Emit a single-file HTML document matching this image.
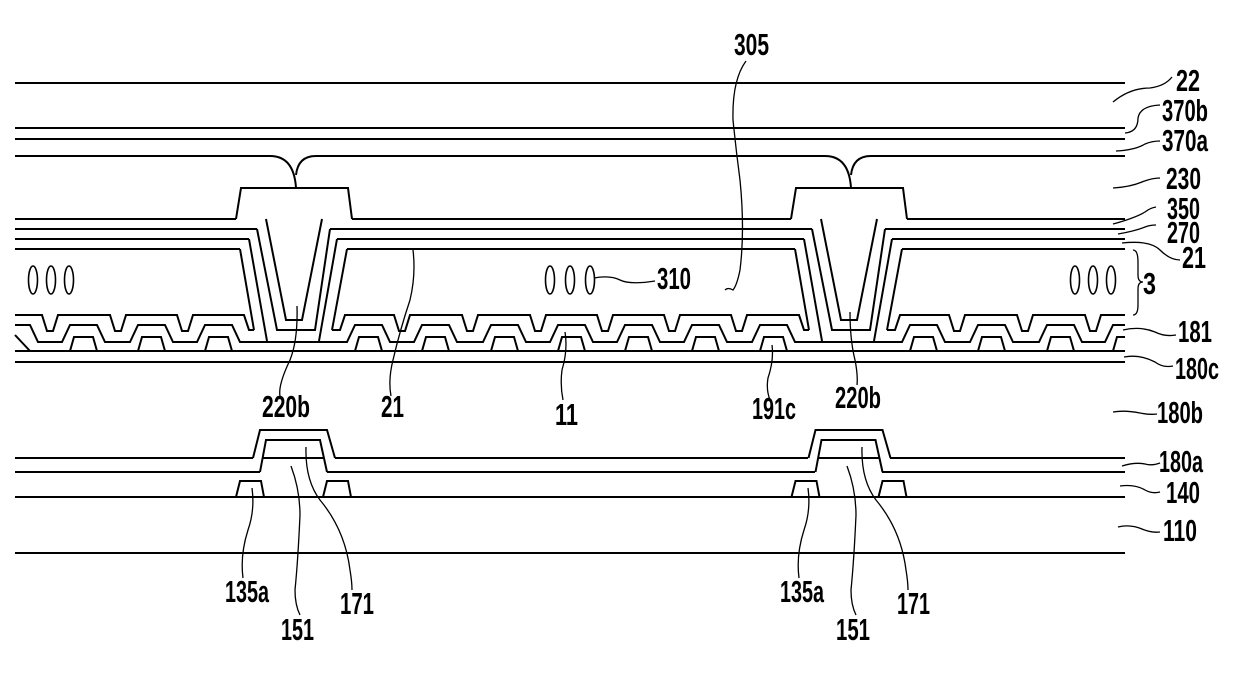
<!DOCTYPE html>
<html><head><meta charset="utf-8"><style>
html,body{margin:0;padding:0;background:#fff}
svg{display:block}
text{font-family:"Liberation Sans Narrow","Liberation Sans",sans-serif;font-weight:bold;font-size:31px;fill:#000}
</style></head><body>
<svg width="1240" height="682" viewBox="0 0 1240 682" xmlns="http://www.w3.org/2000/svg">
<g fill="none" stroke="#000" stroke-width="2">
<path d="M15,83H1125M15,128H1125M15,139H1125"/>
<path d="M15,156H270Q294,156 296,188M316,156Q298,156 296,175M316,156H825Q849,156 851,188M871,156Q853,156 851,175M871,156H1125"/>
<path d="M15,219H236M352,219H791M907,219H1125"/>
<path d="M15,229H257M330,229H812M885,229H1125"/>
<path d="M15,239H249M337,239H804M892,239H1125"/>
<path d="M15,249H240M347,249H795M902,249H1125"/>
<g transform="translate(294,0)">
<path d="M-58,219L-53,188L54,188L58,219"/>
<path d="M-28,219L-8,320L8,320L28,219"/>
<path d="M-37,229L-17,330L21,330L36,229"/>
<path d="M-45,239L-27,341M43,239L25,341"/>
</g>
<g transform="translate(849,0)">
<path d="M-58,219L-53,188L54,188L58,219"/>
<path d="M-28,219L-8,320L8,320L28,219"/>
<path d="M-37,229L-17,330L21,330L36,229"/>
<path d="M-45,239L-27,341M43,239L25,341"/>
</g>
<path d="M240,249L254,330M347,249L332,330M795,249L809,330M902,249L887,330"/>
<path d="M15,315L42,315L47,331L53,331L58,315L110,315L115,331L121,331L126,315L177,315L182,331L188,331L193,315L244,315L249,330L254,330"/>
<path d="M332,330L340,330L345,315L394,315L399,331L405,331L410,315L462,315L467,331L473,331L478,315L530,315L535,331L541,331L546,315L597,315L602,331L608,331L613,315L664,315L669,331L675,331L680,315L731,315L736,331L742,331L747,315L799,315L804,330L809,330"/>
<path d="M887,330L895,330L900,315L949,315L954,331L960,331L965,315L1017,315L1022,331L1028,331L1033,315L1085,315L1090,331L1096,331L1101,315L1125,315"/>
<path d="M15,325L30,325L38,342L62,342L70,325L97,325L105,342L130,342L138,325L165,325L173,342L197,342L205,325L232,325L240,342L347,342L355,325L382,325L390,342L414,342L422,325L449,325L457,342L483,342L491,325L518,325L526,342L550,342L558,325L585,325L593,342L617,342L625,325L652,325L660,342L684,342L692,325L719,325L727,342L752,342L760,325L787,325L795,342L902,342L910,325L937,325L945,342L970,342L978,325L1005,325L1013,342L1039,342L1047,325L1074,325L1082,342L1105,342L1113,325L1125,325"/>
<path d="M15,335L30,351M70,351L74,337L93,337L97,351M138,351L142,337L161,337L165,351M205,351L209,337L228,337L232,351M355,351L359,337L378,337L382,351M422,351L426,337L445,337L449,351M491,351L495,337L514,337L518,351M558,351L562,337L581,337L585,351M625,351L629,337L648,337L652,351M692,351L696,337L715,337L719,351M760,351L764,337L783,337L787,351M910,351L914,337L933,337L937,351M978,351L982,337L1001,337L1005,351M1047,351L1051,337L1070,337L1074,351M1113,351L1117,337L1125,337"/>
<path d="M15,351H1125M15,362H1125"/>
<path d="M15,458H253M335,458H808M890,458H1125"/>
<path d="M15,472H260M327,472H815M882,472H1125"/>
<path d="M15,497H1125M15,553H1125"/>
<g transform="translate(294,0)">
<path d="M-41,458L-34,430L33,430L41,458"/>
<path d="M-34,472L-28,440L26,440L33,472M-31,458H30"/>
<path d="M-58,497L-54,481L-33,481L-30,497M29,497L33,481L54,481L57,497"/>
</g>
<g transform="translate(849.5,0)">
<path d="M-41,458L-34,430L33,430L41,458"/>
<path d="M-34,472L-28,440L26,440L33,472M-31,458H30"/>
<path d="M-58,497L-54,481L-33,481L-30,497M29,497L33,481L54,481L57,497"/>
</g>
</g>
<g fill="none" stroke="#000" stroke-width="1.6">
<ellipse cx="33" cy="280" rx="4.5" ry="14"/><ellipse cx="51" cy="280" rx="4.5" ry="14"/><ellipse cx="69" cy="280" rx="4.5" ry="14"/>
<ellipse cx="550" cy="280" rx="4.5" ry="14"/><ellipse cx="570" cy="280" rx="4.5" ry="14"/><ellipse cx="590" cy="280" rx="4.5" ry="14"/>
<ellipse cx="1075" cy="280" rx="4.5" ry="14"/><ellipse cx="1093" cy="280" rx="4.5" ry="14"/><ellipse cx="1111" cy="280" rx="4.5" ry="14"/>
</g>
<g fill="none" stroke="#000" stroke-width="1.3">
<path d="M1113,102Q1130,88 1150,88Q1165,86 1172,77"/>
<path d="M1125,133Q1138,132 1138,118Q1140,106 1160,105"/>
<path d="M1116,151Q1135,150 1145,144Q1152,141 1160,141"/>
<path d="M1113,188Q1130,187 1142,182Q1152,178 1160,178"/>
<path d="M1113,224Q1135,218 1145,212Q1150,208 1156,207"/>
<path d="M1118,234Q1135,231 1145,227Q1150,225 1156,225"/>
<path d="M1122,243Q1150,240 1160,250Q1170,260 1180,260"/>
<path d="M1133,250Q1138,250 1138,262L1138,275Q1138,282 1143,282Q1138,282 1138,289L1138,305Q1138,315 1133,315"/>
<path d="M1123,330Q1140,326 1155,332Q1165,337 1176,335"/>
<path d="M1124,357Q1140,354 1155,362Q1163,368 1173,366"/>
<path d="M1113,412Q1125,410 1140,413Q1150,415 1157,414"/>
<path d="M1122,466Q1135,462 1145,464Q1152,466 1160,463"/>
<path d="M1120,486Q1135,484 1145,490Q1152,494 1160,492"/>
<path d="M1118,527Q1130,524 1142,529Q1152,533 1160,532"/>
<path d="M746,61Q732,80 733,120Q736,150 740,180Q745,230 740,270Q737,285 733,290Q728,287 725,290"/>
<path d="M594,278Q610,275 620,280Q630,285 655,281"/>
<path d="M297,306Q298,340 290,360Q278,385 280,396"/>
<path d="M413,250Q416,275 410,300Q400,330 393,360Q388,380 391,396"/>
<path d="M565,332Q568,350 562,370Q560,385 563,400"/>
<path d="M772,345Q774,360 768,378Q766,390 770,400"/>
<path d="M850,312Q850,340 855,360Q858,375 857,385"/>
<path d="M252,488Q255,510 248,530Q240,555 243,578"/>
<path d="M291,466Q300,490 300,515Q298,560 295,590Q295,605 300,615"/>
<path d="M306,447Q305,480 320,500Q345,530 350,570Q352,582 352,590"/>
<path d="M808,488Q811,510 804,530Q796,555 799,578"/>
<path d="M847,466Q856,490 856,515Q854,560 851,590Q851,605 856,615"/>
<path d="M862,447Q861,480 876,500Q901,530 906,570Q908,582 908,590"/>
</g>
<text x="734" y="55" textLength="35" lengthAdjust="spacingAndGlyphs">305</text>
<text x="1176" y="91" textLength="24" lengthAdjust="spacingAndGlyphs">22</text>
<text x="1162" y="121" textLength="46" lengthAdjust="spacingAndGlyphs">370b</text>
<text x="1162" y="151" textLength="46" lengthAdjust="spacingAndGlyphs">370a</text>
<text x="1166" y="189" textLength="35" lengthAdjust="spacingAndGlyphs">230</text>
<text x="1167" y="219" textLength="33" lengthAdjust="spacingAndGlyphs">350</text>
<text x="1167" y="243" textLength="33" lengthAdjust="spacingAndGlyphs">270</text>
<text x="1182" y="268" textLength="24" lengthAdjust="spacingAndGlyphs">21</text>
<text x="1143" y="294" textLength="13" lengthAdjust="spacingAndGlyphs">3</text>
<text x="657" y="289" textLength="34" lengthAdjust="spacingAndGlyphs">310</text>
<text x="1178" y="342" textLength="34" lengthAdjust="spacingAndGlyphs">181</text>
<text x="1175" y="379" textLength="44" lengthAdjust="spacingAndGlyphs">180c</text>
<text x="1157" y="423" textLength="46" lengthAdjust="spacingAndGlyphs">180b</text>
<text x="1159" y="472" textLength="44" lengthAdjust="spacingAndGlyphs">180a</text>
<text x="1166" y="503" textLength="34" lengthAdjust="spacingAndGlyphs">140</text>
<text x="1163" y="541" textLength="34" lengthAdjust="spacingAndGlyphs">110</text>
<text x="262" y="417" textLength="48" lengthAdjust="spacingAndGlyphs">220b</text>
<text x="381" y="417" textLength="23" lengthAdjust="spacingAndGlyphs">21</text>
<text x="555" y="425" textLength="23" lengthAdjust="spacingAndGlyphs">11</text>
<text x="752" y="419" textLength="44" lengthAdjust="spacingAndGlyphs">191c</text>
<text x="835" y="408" textLength="46" lengthAdjust="spacingAndGlyphs">220b</text>
<text x="225" y="602" textLength="44" lengthAdjust="spacingAndGlyphs">135a</text>
<text x="281" y="640" textLength="33" lengthAdjust="spacingAndGlyphs">151</text>
<text x="340" y="614" textLength="34" lengthAdjust="spacingAndGlyphs">171</text>
<text x="780" y="602" textLength="44" lengthAdjust="spacingAndGlyphs">135a</text>
<text x="836" y="640" textLength="34" lengthAdjust="spacingAndGlyphs">151</text>
<text x="897" y="614" textLength="33" lengthAdjust="spacingAndGlyphs">171</text>
</svg>
</body></html>
